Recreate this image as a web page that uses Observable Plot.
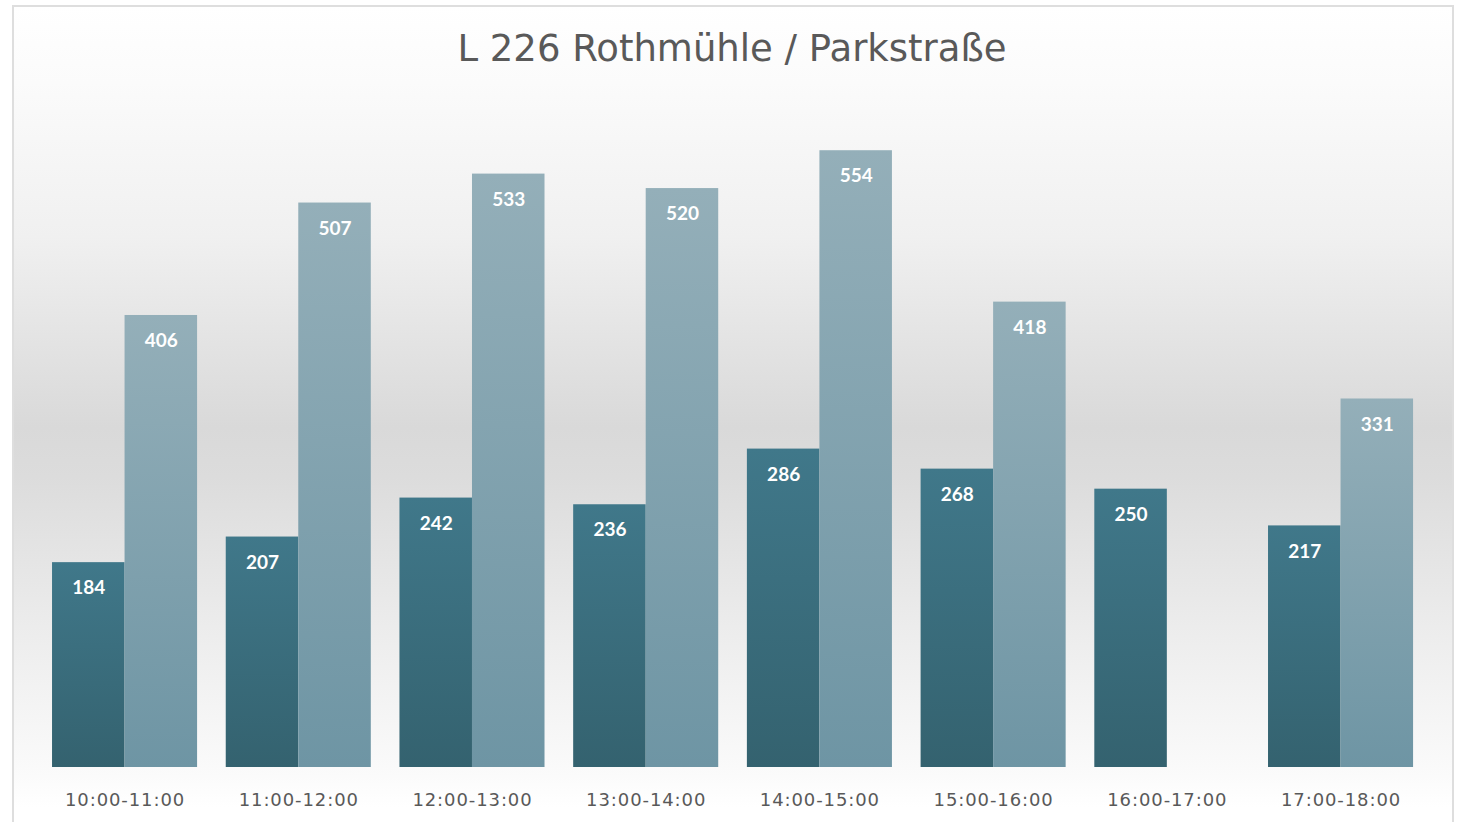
<!DOCTYPE html>
<html>
<head>
<meta charset="utf-8">
<script src="https://cdn.jsdelivr.net/npm/d3@7"></script>
<script src="https://cdn.jsdelivr.net/npm/@observablehq/plot@0.6"></script>
<style>
  html, body { margin: 0; padding: 0; background: #ffffff; }
  #page { position: relative; width: 1461px; height: 822px; overflow: hidden; background: #ffffff; }
  #frame {
    position: absolute; left: 12px; top: 5px; width: 1438px; height: 830px;
    border: 2px solid #dedede;
    background: linear-gradient(to bottom, #ffffff 0px, #fbfbfb 75px, #f0f0f0 230px, #d9d9d9 420px, #dcdcdc 470px, #ececec 620px, #fbfbfb 770px, #ffffff 800px);
  }
  #title {
    position: absolute; left: 12px; width: 1440px; top: 24px; text-align: center;
    font-family: "DejaVu Sans", sans-serif; font-size: 37px; color: #595959; line-height: 50px;
  }
  #chart { position: absolute; left: 0; top: 80px; }
  #chart g[aria-label="fx-axis tick label"] text { letter-spacing: 0.9px; }
</style>
</head>
<body>
<div id="page">
  <div id="frame"></div>
  <div id="title">L 226 Rothmühle / Parkstraße</div>
  <div id="chart"></div>
</div>
<script>
const categories = ["10:00-11:00", "11:00-12:00", "12:00-13:00", "13:00-14:00", "14:00-15:00", "15:00-16:00", "16:00-17:00", "17:00-18:00"];
const seriesNames = ["Reihe 1", "Reihe 2"];
const series1 = [184, 207, 242, 236, 286, 268, 250, 217];
const series2 = [406, 507, 533, 520, 554, 418, null, 331];

const data = categories.flatMap((c, i) => [
  {cat: c, s: seriesNames[0], v: series1[i]},
  {cat: c, s: seriesNames[1], v: series2[i]}
]).filter(d => d.v != null);

const dataA = data.filter(d => d.s === seriesNames[0]);
const dataB = data.filter(d => d.s === seriesNames[1]);

const chart = Plot.plot({
  width: 1461,
  height: 742,
  marginTop: 19,
  marginBottom: 55,
  marginLeft: 37.7,
  marginRight: 33.6,
  style: {background: "transparent", overflow: "visible"},
  fx: {domain: categories, paddingInner: 0.165, paddingOuter: 0.0825, round: false, label: null},
  x: {domain: seriesNames, padding: 0, round: false, axis: null},
  y: {domain: [0, 600], axis: null},
  marks: [
    Plot.axisFx({anchor: "bottom", tickSize: 0, tickPadding: 26, fontSize: 18, fill: "#595959", fontFamily: "DejaVu Sans, sans-serif", label: null}),
    Plot.barY(dataA, {fx: "cat", x: "s", y: "v", fill: "url(#gradA)"}),
    Plot.barY(dataB, {fx: "cat", x: "s", y: "v", fill: "url(#gradB)"}),
    Plot.text(data, {fx: "cat", x: "s", y: "v", text: d => String(d.v), dy: 25.5, fill: "white",
      fontWeight: "bold", fontSize: 19, fontFamily: "Lato, sans-serif"})
  ]
});

chart.insertAdjacentHTML("afterbegin", `
<defs>
  <linearGradient id="gradA" x1="0" y1="0" x2="0" y2="1">
    <stop offset="0" stop-color="#40788a"/>
    <stop offset="1" stop-color="#34626f"/>
  </linearGradient>
  <linearGradient id="gradB" x1="0" y1="0" x2="0" y2="1">
    <stop offset="0" stop-color="#94afb9"/>
    <stop offset="1" stop-color="#6e95a4"/>
  </linearGradient>
</defs>`);

document.getElementById("chart").appendChild(chart);
</script>
</body>
</html>
